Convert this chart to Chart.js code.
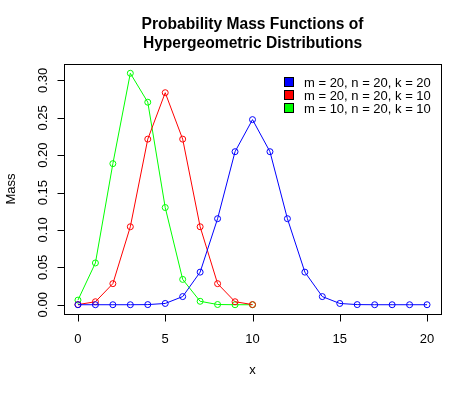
<!DOCTYPE html>
<html>
<head>
<meta charset="utf-8">
<script src="https://cdn.jsdelivr.net/npm/chart.js@4.4.1/dist/chart.umd.min.js"></script>
<style>
  html, body { margin: 0; padding: 0; background: #fff; }
  #wrap { width: 474px; height: 395px; }
</style>
</head>
<body>
<div id="wrap"><canvas id="pmf-chart" width="474" height="395"></canvas></div>
<script>
// values
const xBlue = [0, 1, 2, 3, 4, 5, 6, 7, 8, 9, 10, 11, 12, 13, 14, 15, 16, 17, 18, 19, 20];
const massBlue = [0, 0, 0, 0.00001, 0.00017, 0.0017, 0.0109, 0.0436, 0.1151, 0.2047, 0.2476,
                  0.2047, 0.1151, 0.0436, 0.0109, 0.0017, 0.00017, 0.00001, 0, 0, 0];
const xShort = [0, 1, 2, 3, 4, 5, 6, 7, 8, 9, 10];
const massRed = [0.0002, 0.004, 0.0282, 0.1043, 0.2215, 0.2836, 0.2215, 0.1043, 0.0282, 0.004, 0.0002];
const massGreen = [0.0062, 0.0559, 0.1887, 0.3096, 0.2709, 0.130, 0.0339, 0.0046, 0.0003, 0, 0];

const seriesLabels = ['m = 20, n = 20, k = 20', 'm = 20, n = 20, k = 10', 'm = 10, n = 20, k = 10'];
const seriesColors = ['#0000ff', '#ff0000', '#00ff00'];
const xTicks = [0, 5, 10, 15, 20];
const yTicks = [0, 0.05, 0.10, 0.15, 0.20, 0.25, 0.30];
const titleLines = ['Probability Mass Functions of', 'Hypergeometric Distributions'];

const FONT = '"Liberation Sans", Arial, sans-serif';

const toPoints = (xs, ys) => xs.map((x, i) => ({ x: x, y: ys[i] }));

const makeSet = (i, xs, ys) => ({
    label: seriesLabels[i],
    data: toPoints(xs, ys),
    borderColor: seriesColors[i],
    backgroundColor: 'rgba(0,0,0,0)',
    borderWidth: 1,
    pointRadius: 3,
    pointBorderWidth: 1,
    pointBackgroundColor: 'rgba(0,0,0,0)',
    tension: 0,
    order: i
});

// R-style box, axes, title and legend drawn from the chart's own scales
const rFrame = {
    id: 'rFrame',
    afterDraw(chart) {
        const ctx = chart.ctx;
        const area = chart.chartArea;
        const xs = chart.scales.x;
        const ys = chart.scales.y;
        ctx.save();
        ctx.strokeStyle = '#000';
        ctx.fillStyle = '#000';
        ctx.lineWidth = 1;

        ctx.strokeRect(Math.round(area.left) + 0.5, Math.round(area.top) + 0.5,
            Math.round(area.right - area.left), Math.round(area.bottom - area.top));

        // x axis
        ctx.font = '13px ' + FONT;
        ctx.textAlign = 'center';
        ctx.textBaseline = 'alphabetic';
        const yb = Math.round(area.bottom) + 0.5;
        ctx.beginPath();
        ctx.moveTo(xs.getPixelForValue(xTicks[0]), yb);
        ctx.lineTo(xs.getPixelForValue(xTicks[xTicks.length - 1]), yb);
        xTicks.forEach(t => {
            const px = Math.round(xs.getPixelForValue(t)) + 0.5;
            ctx.moveTo(px, yb);
            ctx.lineTo(px, yb + 7);
        });
        ctx.stroke();
        xTicks.forEach(t => ctx.fillText(String(t), xs.getPixelForValue(t), area.bottom + 29));
        ctx.fillText('x', (area.left + area.right) / 2, area.bottom + 60);

        // y axis
        const xl = Math.round(area.left) + 0.5;
        ctx.beginPath();
        ctx.moveTo(xl, ys.getPixelForValue(yTicks[0]));
        ctx.lineTo(xl, ys.getPixelForValue(yTicks[yTicks.length - 1]));
        yTicks.forEach(t => {
            const py = Math.round(ys.getPixelForValue(t)) + 0.5;
            ctx.moveTo(xl, py);
            ctx.lineTo(xl - 7, py);
        });
        ctx.stroke();
        yTicks.forEach(t => {
            ctx.save();
            ctx.translate(area.left - 17, ys.getPixelForValue(t));
            ctx.rotate(-Math.PI / 2);
            ctx.fillText(t.toFixed(2), 0, 0);
            ctx.restore();
        });
        ctx.save();
        ctx.translate(15, (area.top + area.bottom) / 2);
        ctx.rotate(-Math.PI / 2);
        ctx.fillText('Mass', 0, 0);
        ctx.restore();

        // title
        ctx.font = 'bold 15.6px ' + FONT;
        titleLines.forEach((line, i) => {
            ctx.fillText(line, (area.left + area.right) / 2, 29 + i * 19);
        });

        // legend
        ctx.font = '13px ' + FONT;
        ctx.textAlign = 'left';
        chart.data.datasets.forEach((ds, i) => {
            const cy = 82 + i * 13;
            ctx.fillStyle = ds.borderColor;
            ctx.fillRect(284.5, cy - 4.5, 9, 9);
            ctx.strokeStyle = '#000';
            ctx.strokeRect(284.5, cy - 4.5, 9, 9);
            ctx.fillStyle = '#000';
            ctx.fillText(ds.label, 304, cy + 4.5);
        });
        ctx.restore();
    }
};

new Chart(document.getElementById('pmf-chart').getContext('2d'), {
    type: 'line',
    data: {
        datasets: [
            makeSet(0, xBlue, massBlue),
            makeSet(1, xShort, massRed),
            makeSet(2, xShort, massGreen)
        ]
    },
    options: {
        responsive: false,
        animation: false,
        layout: { padding: { left: 64, top: 64, right: 33, bottom: 81 } },
        plugins: { legend: { display: false }, title: { display: false }, tooltip: { enabled: false } },
        scales: {
            x: { type: 'linear', min: -0.8, max: 20.8, display: false },
            y: { type: 'linear', min: -0.0124, max: 0.322, display: false }
        }
    },
    plugins: [rFrame]
});
</script>
</body>
</html>
